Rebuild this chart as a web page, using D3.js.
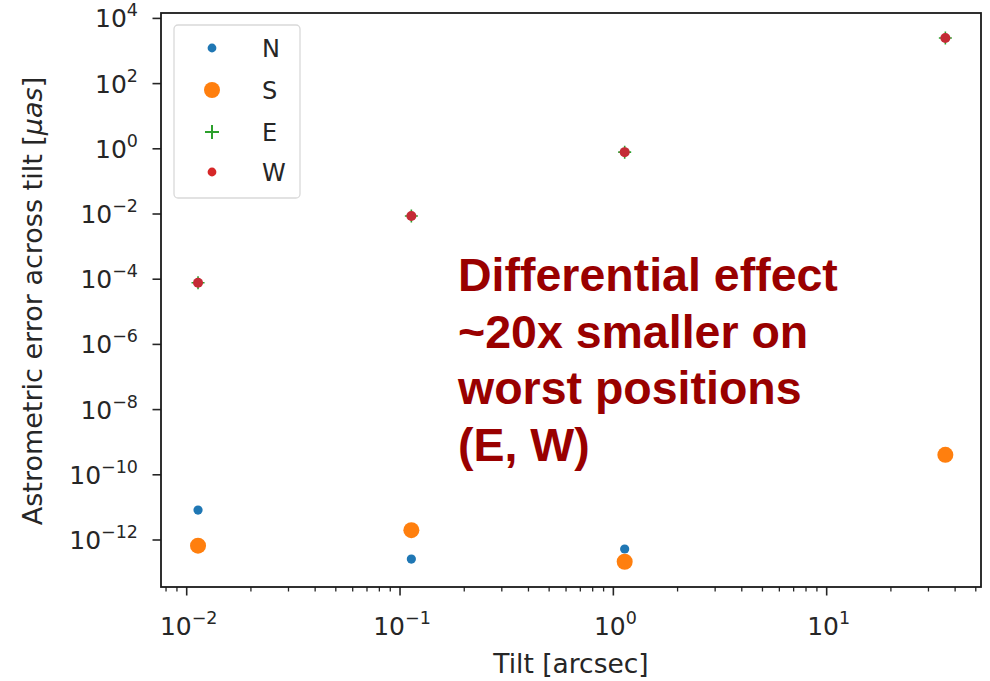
<!DOCTYPE html>
<html>
<head>
<meta charset="utf-8">
<script src="https://cdn.jsdelivr.net/npm/d3@7"></script>
<style>
  html, body { margin: 0; padding: 0; background: #fff; }
  svg { display: block; }
  text { font-family: "DejaVu Sans", sans-serif; fill: #262626; }
</style>
</head>
<body>
<svg id="chart" width="990" height="681"></svg>
<script>
// ---- data ----
const tilts = [0.0113, 0.113, 1.13, 36];
const seriesNames = ["N", "S", "E", "W"];
const valuesN = [8.3e-12, 2.6e-13, 5.3e-13, 4.1e-10];
const valuesS = [6.7e-13, 2.0e-12, 2.15e-13, 4.1e-10];
const valuesE = [7.8e-5, 8.7e-3, 0.79, 2.5e3];
const valuesW = [7.8e-5, 8.7e-3, 0.79, 2.5e3];
const xTickExps = [-2, -1, 0, 1];
const yTickExps = [4, 2, 0, -2, -4, -6, -8, -10, -12];
const annotationLines = ["Differential effect", "~20x smaller on", "worst positions", "(E, W)"];

const colors = { N: "#1f77b4", S: "#ff7f0e", E: "#2ca02c", W: "#d62728" };

const svg = d3.select("#chart");
const L = 161, R = 981, T = 13, B = 587;

const x = d3.scaleLog().domain([Math.pow(10, -2.1205), Math.pow(10, 1.7234)]).range([L, R]);
const y = d3.scaleLog().domain([Math.pow(10, -13.442), Math.pow(10, 4.166)]).range([B, T]);

const fmtExp = e => (e < 0 ? "\u2212" + Math.abs(e) : String(e));

// ---- x axis ticks ----
const gx = svg.append("g");
const xMinor = [];
for (let e = -3; e <= 2; e++) for (let m = 2; m <= 9; m++) {
  const v = m * Math.pow(10, e);
  if (v >= x.domain()[0] && v <= x.domain()[1]) xMinor.push(v);
}
gx.selectAll("line.minor").data(xMinor).join("line")
  .attr("x1", d => x(d)).attr("x2", d => x(d))
  .attr("y1", B).attr("y2", B + 4.5)
  .attr("stroke", "#262626").attr("stroke-width", 1.3);
gx.selectAll("line.major").data(xTickExps).join("line")
  .attr("x1", d => x(Math.pow(10, d))).attr("x2", d => x(Math.pow(10, d)))
  .attr("y1", B).attr("y2", B + 8.5)
  .attr("stroke", "#262626").attr("stroke-width", 1.6);
const xl = gx.selectAll("text").data(xTickExps).join("text")
  .attr("x", d => x(Math.pow(10, d)) + 2).attr("y", 635)
  .attr("text-anchor", "middle").style("font-size", "25px");
xl.append("tspan").text("10");
xl.append("tspan").attr("dy", -11).style("font-size", "17.5px").text(d => fmtExp(d));

// ---- y axis ticks ----
const gy = svg.append("g");
gy.selectAll("line").data(yTickExps).join("line")
  .attr("x1", L - 8.5).attr("x2", L)
  .attr("y1", d => y(Math.pow(10, d))).attr("y2", d => y(Math.pow(10, d)))
  .attr("stroke", "#262626").attr("stroke-width", 1.6);
const yl = gy.selectAll("text").data(yTickExps).join("text")
  .attr("x", 138).attr("y", d => y(Math.pow(10, d)) + 9)
  .attr("text-anchor", "end").style("font-size", "25px");
yl.append("tspan").text("10");
yl.append("tspan").attr("dy", -11).style("font-size", "17.5px").text(d => fmtExp(d));

// ---- frame ----
svg.append("rect").attr("x", L).attr("y", T).attr("width", R - L).attr("height", B - T)
  .attr("fill", "none").attr("stroke", "#1a1a1a").attr("stroke-width", 1.8);

// ---- axis labels ----
svg.append("text").attr("x", 571).attr("y", 673).attr("text-anchor", "middle")
  .style("font-size", "26.5px").text("Tilt [arcsec]");
const ylab = svg.append("text").attr("transform", "translate(42,301) rotate(-90)").attr("text-anchor", "middle")
  .style("font-size", "27px");
ylab.append("tspan").text("Astrometric error across tilt [");
ylab.append("tspan").style("font-style", "italic").text("\u03bcas");
ylab.append("tspan").text("]");

// ---- data marks ----
const plusPath = s => `M${-s},0H${s}M0,${-s}V${s}`;
const gE = svg.append("g");
gE.selectAll("path").data(tilts.map((t, i) => [t, valuesE[i]])).join("path")
  .attr("transform", d => `translate(${x(d[0])},${y(d[1])})`)
  .attr("d", plusPath(6.5)).attr("stroke", colors.E).attr("stroke-width", 1.6);
svg.append("g").selectAll("circle").data(tilts.map((t, i) => [t, valuesW[i]])).join("circle")
  .attr("cx", d => x(d[0])).attr("cy", d => y(d[1])).attr("r", 5).attr("fill", "#c42b35");
svg.append("g").selectAll("circle").data(tilts.map((t, i) => [t, valuesN[i]])).join("circle")
  .attr("cx", d => x(d[0])).attr("cy", d => y(d[1])).attr("r", 4.6).attr("fill", colors.N);
svg.append("g").selectAll("circle").data(tilts.map((t, i) => [t, valuesS[i]])).join("circle")
  .attr("cx", d => x(d[0])).attr("cy", d => y(d[1])).attr("r", 8).attr("fill", colors.S);

// ---- legend ----
const lg = svg.append("g");
lg.append("rect").attr("x", 174).attr("y", 25).attr("width", 126).attr("height", 173).attr("rx", 4)
  .attr("fill", "#fff").attr("fill-opacity", 0.8).attr("stroke", "#d9d9d9").attr("stroke-width", 1.3);
const legY = [48, 90, 132, 172];
seriesNames.forEach((n, i) => {
  const cy = legY[i];
  if (n === "E") {
    lg.append("path").attr("transform", `translate(212,${cy})`).attr("d", plusPath(7))
      .attr("stroke", colors.E).attr("stroke-width", 2);
  } else {
    lg.append("circle").attr("cx", 212).attr("cy", cy).attr("r", n === "S" ? 8 : 4.4).attr("fill", colors[n]);
  }
  lg.append("text").attr("x", 262).attr("y", cy + 9).style("font-size", "24px").text(n);
});

// ---- annotation ----
const ann = svg.append("text").attr("x", 458).attr("y", 291)
  .style("font-family", "'Liberation Sans', Arial, sans-serif").style("font-weight", "bold")
  .style("font-size", "46.5px").style("fill", "#990000");
annotationLines.forEach((t, i) => {
  ann.append("tspan").attr("x", 458).attr("dy", i === 0 ? 0 : 56.5).text(t);
});
</script>
</body>
</html>
